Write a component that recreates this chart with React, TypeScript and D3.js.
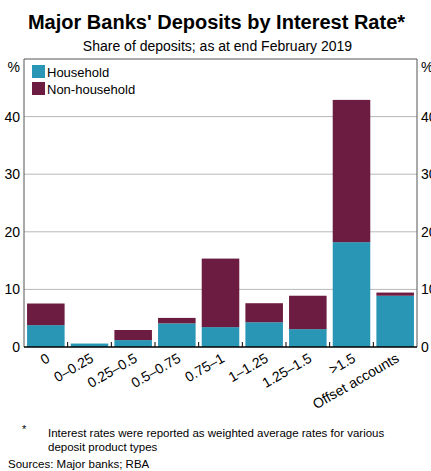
import React from "react";
import * as d3 from "d3";

const categories = ["0", "0–0.25", "0.25–0.5", "0.5–0.75", "0.75–1", "1–1.25", "1.25–1.5", ">1.5", "Offset accounts"];
const household = [3.8, 0.6, 1.2, 4.1, 3.45, 4.3, 3.1, 18.2, 8.9];
const nonHousehold = [3.75, 0, 1.75, 0.95, 11.9, 3.3, 5.8, 24.7, 0.55];
const yTicks = [0, 10, 20, 30, 40];
const seriesNames = ["Household", "Non-household"];
const colors = ["#2a96b5", "#6b1c40"];

export default function App() {
  const W = 431, H = 471;
  const left = 24, right = 417, top = 59, bottom = 347;
  const x = d3.scaleBand<string>().domain(categories).range([left, right]).paddingInner(0.14).paddingOuter(0.07);
  const y = d3.scaleLinear().domain([0, 50]).range([bottom, top]);
  const step = (right - left) / categories.length;
  const font = "Liberation Sans, Arial, sans-serif";

  const stacked = categories.map((c, i) => ({
    c,
    h: household[i],
    n: nonHousehold[i],
  }));

  return (
    <svg width={W} height={H} style={{ position: "absolute", left: 0, top: 0 }} fontFamily={font}>
      <rect x={0} y={0} width={W} height={H} fill="#fff" />
      <text x={W / 2 + 1} y={29} textAnchor="middle" fontSize={20} fontWeight="bold">Major Banks' Deposits by Interest Rate*</text>
      <text x={W / 2 + 2} y={51} textAnchor="middle" fontSize={14}>Share of deposits; as at end February 2019</text>

      {yTicks.filter((t) => t > 0).map((t) => (
        <line key={t} x1={left} x2={right} y1={y(t)} y2={y(t)} stroke="#b8b8b8" strokeWidth={1} />
      ))}

      {stacked.map((d) => {
        const bx = x(d.c)!;
        const bw = x.bandwidth();
        return (
          <g key={d.c}>
            <rect x={bx} y={y(d.h)} width={bw} height={y(0) - y(d.h)} fill={colors[0]} />
            {d.n > 0 && (
              <rect x={bx} y={y(d.h + d.n)} width={bw} height={y(d.h) - y(d.h + d.n)} fill={colors[1]} />
            )}
          </g>
        );
      })}

      <line x1={left} x2={left} y1={top} y2={bottom} stroke="#555" strokeWidth={1} />
      <line x1={right} x2={right} y1={top} y2={bottom} stroke="#555" strokeWidth={1} />
      <line x1={left} x2={right} y1={top} y2={top} stroke="#555" strokeWidth={1} />
      <line x1={left} x2={right} y1={bottom} y2={bottom} stroke="#000" strokeWidth={1.5} />

      {categories.slice(1).map((c, i) => {
        const tx = left + step * (i + 1);
        return <line key={c} x1={tx} x2={tx} y1={bottom} y2={bottom - 5} stroke="#000" strokeWidth={1} />;
      })}

      {yTicks.map((t) => (
        <g key={t}>
          <text x={20} y={y(t) + 5} textAnchor="end" fontSize={14}>{t}</text>
          <text x={421} y={y(t) + 5} textAnchor="start" fontSize={14}>{t}</text>
        </g>
      ))}
      <text x={20} y={72} textAnchor="end" fontSize={14}>%</text>
      <text x={421} y={72} textAnchor="start" fontSize={14}>%</text>

      {seriesNames.map((s, i) => (
        <g key={s}>
          <rect x={32} y={65 + i * 17} width={13} height={13} fill={colors[i]} />
          <text x={47} y={77 + i * 17} fontSize={13}>{s}</text>
        </g>
      ))}

      {categories.map((c) => {
        const cx = x(c)! + x.bandwidth() / 2 + 5;
        return (
          <text key={c} transform={`translate(${cx},${bottom + 14}) rotate(-30)`} textAnchor="end" fontSize={14}>{c}</text>
        );
      })}

      <text x={22} y={433} fontSize={11}>*</text>
      <text x={48} y={437} fontSize={11.5}>Interest rates were reported as weighted average rates for various</text>
      <text x={48} y={451} fontSize={11.5}>deposit product types</text>
      <text x={8} y={468} fontSize={11.5}>Sources: Major banks; RBA</text>
    </svg>
  );
}
